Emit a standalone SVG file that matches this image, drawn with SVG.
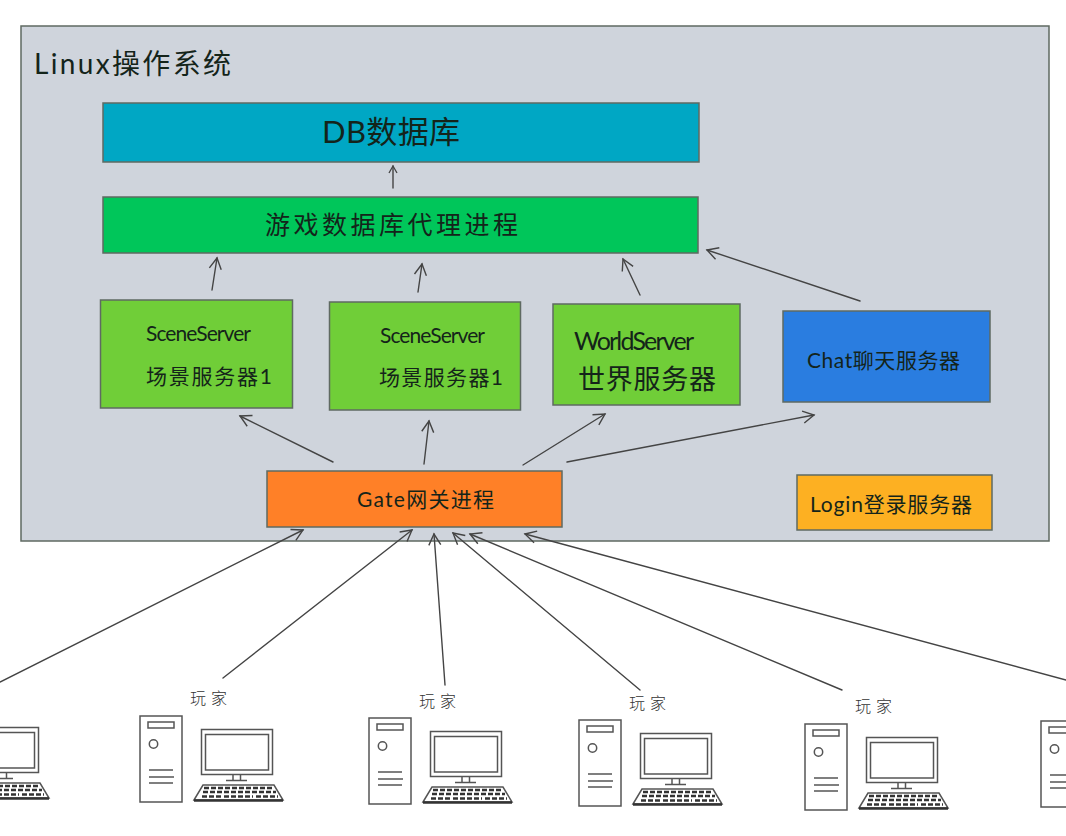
<svg xmlns="http://www.w3.org/2000/svg" width="1066" height="836" viewBox="0 0 1066 836">
<style>
.t{font-family:"Lato","Noto Sans CJK SC","Noto Sans",sans-serif;font-weight:400;fill:#14241a}
.box{stroke:#5f6a62;stroke-width:1.5}
.c line{fill:none;stroke:#444;stroke-width:1.4;stroke-linecap:round}
.pc *{fill:none;stroke:#555;stroke-width:1.5}
.pc .k{stroke:#333;stroke-width:2.6;stroke-dasharray:5 2}
.pc .w{stroke:#333;stroke-width:2.4}
.small{font-size:16px;fill:#333;font-weight:300}
</style>
<defs>
<marker id="a" markerUnits="userSpaceOnUse" markerWidth="24" markerHeight="24" refX="14" refY="8" orient="auto">
<path d="M3 2L14 8L3 14" fill="none" stroke="#444" stroke-width="1.4"/>
</marker>
<marker id="s" markerUnits="userSpaceOnUse" markerWidth="14" markerHeight="14" refX="8" refY="5" orient="auto">
<path d="M1 1L8 5L1 9" fill="none" stroke="#444" stroke-width="1.3"/>
</marker>
<g id="computer" class="pc">
<rect x="140" y="716" width="42" height="86"/>
<rect x="148" y="722" width="26" height="6"/>
<circle cx="153.500" cy="744" r="4.200"/>
<path d="M149 770H173M149 777H174M149 783H173"/>
<rect x="201.500" y="729.500" width="71" height="45"/>
<rect x="205.500" y="734.500" width="63" height="35.500"/>
<path d="M233 775V780M240.500 775V780M226 780.500H247"/>
<path d="M194 800L203 785H274L283 800Z"/>
<path class="w" d="M194 800.500H283"/>
<path class="k" d="M204 788H272M203 792H276"/>
<path class="k" d="M202 796.500H222M224 796.500H253M256 796.500H278" stroke-dasharray="none"/>
</g>
</defs>
<g id="linux"><rect class="box" x="21" y="26" width="1028" height="515" fill="#cfd4dc" stroke="#777"/>
<text class="t" x="34" y="74" font-size="28" textLength="197" lengthAdjust="spacing">Linux操作系统</text></g>
<g id="db"><rect class="box" x="103" y="103" width="596" height="59" fill="#00a7c4"/>
<text class="t" x="322" y="143" font-size="31" textLength="138" lengthAdjust="spacing">DB数据库</text></g>
<g id="proxy"><rect class="box" x="103" y="197" width="595" height="56" fill="#00c65a"/>
<text class="t" x="265" y="234" font-size="25" textLength="253" lengthAdjust="spacing">游戏数据库代理进程</text></g>
<g id="scene1"><rect class="box" x="100.500" y="300" width="192" height="108" fill="#70ce38"/>
<text class="t" x="146" y="341" font-size="21" textLength="105" lengthAdjust="spacing">SceneServer</text>
<text class="t" x="146" y="384" font-size="21" textLength="126" lengthAdjust="spacing">场景服务器1</text></g>
<g id="scene2"><rect class="box" x="329.500" y="302" width="191" height="108" fill="#70ce38"/>
<text class="t" x="380" y="343" font-size="21" textLength="105" lengthAdjust="spacing">SceneServer</text>
<text class="t" x="379" y="385" font-size="21" textLength="124" lengthAdjust="spacing">场景服务器1</text></g>
<g id="world"><rect class="box" x="553" y="304" width="187" height="101" fill="#70ce38"/>
<text class="t" x="574" y="350" font-size="25" textLength="120" lengthAdjust="spacing">WorldServer</text>
<text class="t" x="578" y="389" font-size="27" textLength="138" lengthAdjust="spacing">世界服务器</text></g>
<g id="chat"><rect class="box" x="783" y="311" width="207" height="91" fill="#2a7de0"/>
<text class="t" x="807" y="368" font-size="21" textLength="153" lengthAdjust="spacing">Chat聊天服务器</text></g>
<g id="gate"><rect class="box" x="267" y="471" width="295" height="56" fill="#ff8027"/>
<text class="t" x="357" y="507" font-size="21" textLength="137" lengthAdjust="spacing">Gate网关进程</text></g>
<g id="login"><rect class="box" x="797" y="475" width="195" height="55" fill="#fdb022"/>
<text class="t" x="810" y="512" font-size="21" textLength="162" lengthAdjust="spacing">Login登录服务器</text></g>
<g id="connectors" class="c">
<line x1="393" y1="188" x2="393" y2="166" marker-end="url(#s)"/>
<line x1="212" y1="290" x2="217" y2="258" marker-end="url(#a)"/>
<line x1="418" y1="292" x2="422" y2="264" marker-end="url(#a)"/>
<line x1="640" y1="295" x2="623" y2="259" marker-end="url(#a)"/>
<line x1="860" y1="301" x2="707" y2="250" marker-end="url(#a)"/>
<line x1="333" y1="462" x2="240" y2="416" marker-end="url(#a)"/>
<line x1="424" y1="464" x2="429" y2="421" marker-end="url(#a)"/>
<line x1="523" y1="465" x2="605" y2="414" marker-end="url(#a)"/>
<line x1="567" y1="462" x2="814" y2="415" marker-end="url(#a)"/>
<line x1="0" y1="682" x2="303" y2="530" marker-end="url(#a)"/>
<line x1="223" y1="678" x2="412" y2="530" marker-end="url(#a)"/>
<line x1="445" y1="685" x2="434" y2="534" marker-end="url(#a)"/>
<line x1="640" y1="690" x2="453" y2="533" marker-end="url(#a)"/>
<line x1="842" y1="690" x2="470" y2="534" marker-end="url(#a)"/>
<line x1="1066" y1="680" x2="525" y2="534" marker-end="url(#a)"/>
</g>
<g id="player0"><use href="#computer" transform="translate(-234 -2)"/></g>
<g id="player1"><use href="#computer"/><text class="t small" x="190" y="704" textLength="37">玩家</text></g>
<g id="player2"><use href="#computer" transform="translate(229 2)"/><text class="t small" x="419" y="707" textLength="37">玩家</text></g>
<g id="player3"><use href="#computer" transform="translate(439 4)"/><text class="t small" x="629" y="709" textLength="37">玩家</text></g>
<g id="player4"><use href="#computer" transform="translate(665 8)"/><text class="t small" x="855" y="712" textLength="37">玩家</text></g>
<g id="player5"><use href="#computer" transform="translate(901 5)"/></g>
</svg>
